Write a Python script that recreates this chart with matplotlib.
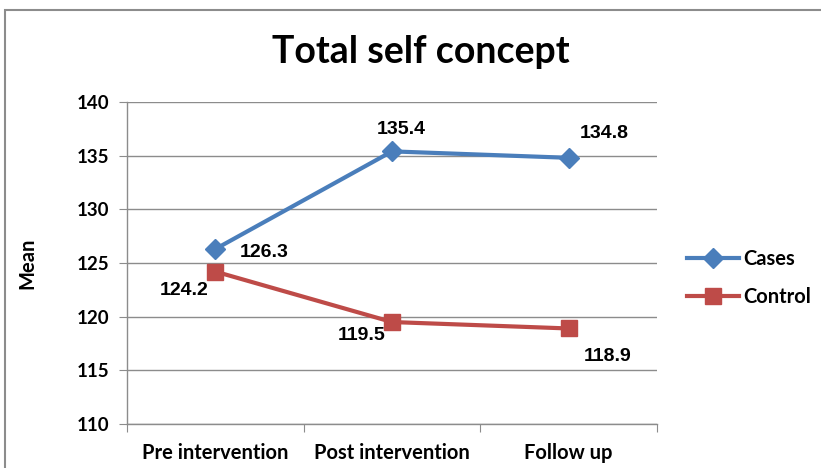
import matplotlib
matplotlib.use("Agg")
import matplotlib.pyplot as plt
from matplotlib.patches import Rectangle

categories = ["Pre intervention", "Post intervention", "Follow up"]
cases = [126.3, 135.4, 134.8]
control = [124.2, 119.5, 118.9]
y_ticks = [110, 115, 120, 125, 130, 135, 140]

W, H = 821, 468
fig = plt.figure(figsize=(W / 100, H / 100), dpi=100)
fig.patch.set_facecolor("white")

# chart frame (runs off the right and bottom edges)
fig.add_artist(Rectangle((5 / W, -0.1), 1.2, 1 - 10 / H + 0.1, transform=fig.transFigure,
                         fill=False, edgecolor="#8c8c8c", linewidth=1.5))

left, right, top, bottom = 127, 657, 102, 424
ax = fig.add_axes([left / W, 1 - bottom / H, (right - left) / W, (bottom - top) / H])

x = [0.5, 1.5, 2.5]
blue = "#4A7EBB"
red = "#BE4B48"
ax.plot(x, cases, color=blue, linewidth=3, marker="D", markersize=10, label="Cases", zorder=4)
ax.plot(x, control, color=red, linewidth=3, marker="s", markersize=12, label="Control", zorder=3)

ax.set_xlim(0, 3)
ax.set_ylim(110, 140)
ax.set_yticks(y_ticks)
ax.set_xticks([0, 1, 2, 3], minor=False)
ax.set_xticklabels([])
ax.set_xticks(x, minor=True)
ax.set_xticklabels(categories, minor=True)
ax.tick_params(axis="x", which="minor", length=0, pad=14)
ax.tick_params(axis="x", which="major", length=6, color="#8c8c8c", direction="out")
ax.tick_params(axis="y", length=6, color="#8c8c8c", direction="out", pad=7)
ax.grid(axis="y", color="#8c8c8c", linewidth=1)
ax.set_axisbelow(True)
for s in ["top", "right"]:
    ax.spines[s].set_visible(False)
for s in ["left", "bottom"]:
    ax.spines[s].set_color("#8c8c8c")
    ax.spines[s].set_linewidth(1)

for lab in ax.get_yticklabels():
    lab.set_fontfamily("Lato")
    lab.set_fontweight("bold")
    lab.set_fontsize(13.5)
for lab in ax.get_xticklabels(minor=True):
    lab.set_fontfamily("Lato")
    lab.set_fontweight("bold")
    lab.set_fontsize(14.5)

ax.set_ylabel("Mean", fontfamily="Lato", fontweight="bold", fontsize=14.5, labelpad=28)

fig.text(421 / W, 1 - 52 / H, "Total self concept", ha="center", va="center",
         fontfamily="Lato", fontweight="bold", fontsize=27)

label_font = dict(family="Liberation Sans", weight="bold", size=14)
case_offsets = [(49, -3), (9, 22), (36, 24)]
control_offsets = [(-31, -19), (-30, -13), (39, -28)]
for xi, v, off in zip(x, cases, case_offsets):
    ax.annotate(f"{v:.1f}", (xi, v), xytext=off, textcoords="offset pixels",
                ha="center", va="center", **label_font)
for xi, v, off in zip(x, control, control_offsets):
    ax.annotate(f"{v:.1f}", (xi, v), xytext=off, textcoords="offset pixels",
                ha="center", va="center", **label_font)

leg = ax.legend(loc="center left", bbox_to_anchor=((687 - left) / (right - left), (bottom - 278) / (bottom - top)),
                frameon=False, prop=dict(family="Lato", weight="bold", size=14.5),
                handlelength=2.6, labelspacing=0.85, handletextpad=0.2, borderaxespad=0,
                borderpad=0)

fig.savefig("out.png", dpi=100)
